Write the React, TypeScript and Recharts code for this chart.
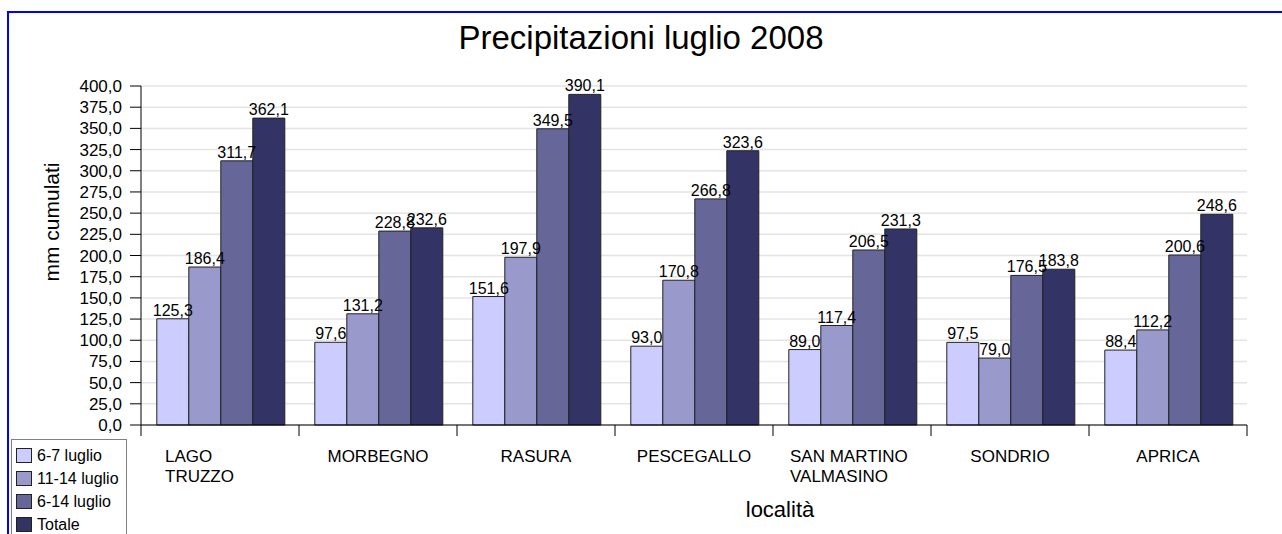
import { BarChart, Bar, XAxis, YAxis, CartesianGrid, Legend, LabelList } from "recharts"

const localita = ["LAGO TRUZZO", "MORBEGNO", "RASURA", "PESCEGALLO", "SAN MARTINO VALMASINO", "SONDRIO", "APRICA"]
const luglio6_7 = [125.3, 97.6, 151.6, 93.0, 89.0, 97.5, 88.4]
const luglio11_14 = [186.4, 131.2, 197.9, 170.8, 117.4, 79.0, 112.2]
const luglio6_14 = [311.7, 228.8, 349.5, 266.8, 206.5, 176.5, 200.6]
const totale = [362.1, 232.6, 390.1, 323.6, 231.3, 183.8, 248.6]
const yTicks = [0, 25, 50, 75, 100, 125, 150, 175, 200, 225, 250, 275, 300, 325, 350, 375, 400]

const series = [
  { key: "a", name: "6-7 luglio", color: "#CCCCFF", values: luglio6_7 },
  { key: "b", name: "11-14 luglio", color: "#9999CC", values: luglio11_14 },
  { key: "c", name: "6-14 luglio", color: "#666699", values: luglio6_14 },
  { key: "d", name: "Totale", color: "#333366", values: totale },
]

const data = localita.map((loc, i) => {
  const row: any = { loc }
  series.forEach((s) => (row[s.key] = s.values[i]))
  return row
})

const FONT = "'Liberation Sans', Arial, sans-serif"
const fmt = (v: number) => v.toFixed(1).replace(".", ",")

// multi-line labels are left aligned inside a centred block
const labelShift: Record<string, number> = { "LAGO TRUZZO": -55, "SAN MARTINO VALMASINO": -62 }
const labelLines: Record<string, string[]> = {
  "LAGO TRUZZO": ["LAGO", "TRUZZO"],
  "SAN MARTINO VALMASINO": ["SAN MARTINO", "VALMASINO"],
}

function CategoryTick(props: any) {
  const { x, y, payload, index } = props
  const half = 158 / 2
  const lines = labelLines[payload.value] || [payload.value]
  const shift = labelShift[payload.value]
  return (
    <g>
      <line x1={x - half} x2={x - half} y1={y} y2={y + 11} stroke="#000" />
      {index === localita.length - 1 && <line x1={x + half} x2={x + half} y1={y} y2={y + 11} stroke="#000" />}
      {lines.map((l, i) => (
        <text
          key={i}
          x={shift !== undefined ? x + shift : x}
          y={y + 37 + i * 20}
          textAnchor={shift !== undefined ? "start" : "middle"}
          fontSize={17}
          fontFamily={FONT}
          fill="#000"
        >
          {l}
        </text>
      ))}
    </g>
  )
}

function LegendBox() {
  return (
    <div
      style={{
        border: "1px solid #808080",
        width: 116,
        height: 120,
        background: "#fff",
        fontFamily: FONT,
        fontSize: 16,
        boxSizing: "border-box",
        paddingTop: 4,
      }}
    >
      {series.map((s) => (
        <div key={s.key} style={{ display: "flex", alignItems: "center", height: 23, paddingLeft: 4 }}>
          <span
            style={{ width: 14, height: 13, background: s.color, border: "1px solid #222", display: "inline-block", marginRight: 5 }}
          />
          <span>{s.name}</span>
        </div>
      ))}
    </div>
  )
}

export default function App() {
  return (
    <div style={{ position: "absolute", left: 0, top: 0, width: 1282, height: 534, overflow: "hidden", background: "#fff" }}>
      <div
        style={{ position: "absolute", left: 7, top: 11, width: 1400, height: 700, border: "2px solid #0000FF", boxSizing: "border-box" }}
      />
      <div
        style={{
          position: "absolute",
          left: 0,
          width: 1282,
          top: 19,
          textAlign: "center",
          fontFamily: FONT,
          fontSize: 33,
          color: "#000",
        }}
      >
        Precipitazioni luglio 2008
      </div>
      <div style={{ position: "absolute", left: 0, top: 0 }}>
        <BarChart
          width={1282}
          height={534}
          data={data}
          margin={{ top: 86, right: 35, left: 41, bottom: 49 }}
          barCategoryGap="10%"
          barGap={0}
        >
          <CartesianGrid vertical={false} stroke="#e4e4e4" strokeWidth={1.5} />
          <XAxis
            dataKey="loc"
            height={60}
            tick={<CategoryTick />}
            tickLine={false}
            tickSize={0}
            tickMargin={0}
            axisLine={{ stroke: "#000" }}
            interval={0}
            label={{
              content: () => (
                <text x={780} y={517} textAnchor="middle" fontSize={22} fontFamily={FONT} fill="#000">
                  località
                </text>
              ),
            }}
          />
          <YAxis
            width={100}
            domain={[0, 400]}
            ticks={yTicks}
            interval={0}
            tickFormatter={fmt}
            tickSize={11}
            tickMargin={8}
            tick={{ fontSize: 17, fill: "#000", fontFamily: FONT }}
            tickLine={{ stroke: "#000" }}
            axisLine={{ stroke: "#000" }}
            label={{
              content: () => (
                <text
                  x={59}
                  y={222}
                  transform="rotate(-90 59 222)"
                  textAnchor="middle"
                  fontSize={21}
                  fontFamily={FONT}
                  fill="#000"
                >
                  mm cumulati
                </text>
              ),
            }}
          />
          <Legend
            layout="vertical"
            align="center"
            verticalAlign="middle"
            wrapperStyle={{ left: 11, top: 439, width: 116 }}
            content={() => <LegendBox />}
          />
          {series.map((s) => (
            <Bar key={s.key} dataKey={s.key} name={s.name} fill={s.color} stroke="#222" strokeWidth={1} isAnimationActive={false}>
              <LabelList
                dataKey={s.key}
                position="top"
                offset={3}
                formatter={(v: any) => fmt(Number(v))}
                style={{ fontSize: 16, fill: "#000", fontFamily: FONT }}
              />
            </Bar>
          ))}
        </BarChart>
      </div>
    </div>
  )
}
